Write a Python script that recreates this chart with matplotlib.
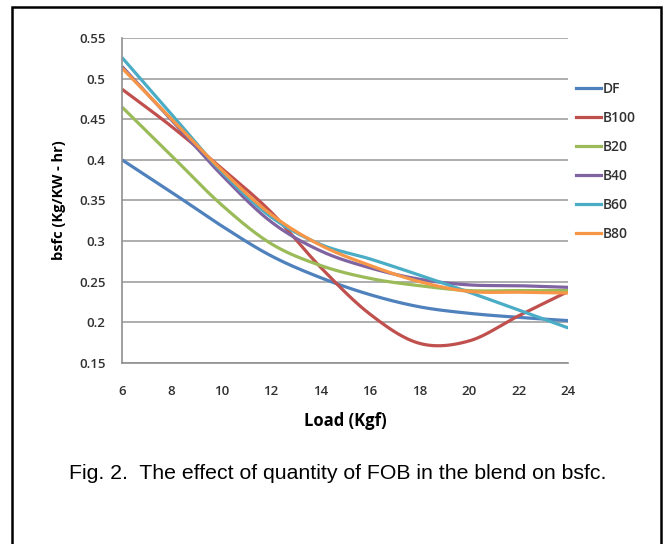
import numpy as np
import matplotlib
matplotlib.use("Agg")
import matplotlib.pyplot as plt
from matplotlib.lines import Line2D
from matplotlib.patches import Rectangle

load = [6, 8, 10, 12, 14, 16, 18, 20, 22, 24]
df = [0.400, 0.360, 0.319, 0.282, 0.255, 0.234, 0.219, 0.211, 0.206, 0.202]
b100 = [0.487, 0.441, 0.390, 0.336, 0.268, 0.210, 0.174, 0.177, 0.208, 0.238]
b20 = [0.465, 0.405, 0.345, 0.297, 0.270, 0.254, 0.245, 0.239, 0.239, 0.239]
b40 = [0.515, 0.449, 0.382, 0.324, 0.288, 0.267, 0.253, 0.246, 0.245, 0.243]
b60 = [0.526, 0.456, 0.386, 0.330, 0.296, 0.278, 0.258, 0.237, 0.215, 0.193]
b80 = [0.513, 0.450, 0.388, 0.333, 0.295, 0.270, 0.250, 0.238, 0.237, 0.236]

names = ["DF", "B100", "B20", "B40", "B60", "B80"]
series = [df, b100, b20, b40, b60, b80]
colors = ["#4F81BD", "#C0504D", "#9BBB59", "#8064A2", "#4BACC6", "#F79646"]


def smooth(x, y, n=30):
    # Catmull-Rom display smoothing, like Excel's smoothed line
    x = np.asarray(x, float)
    y = np.asarray(y, float)
    px = np.concatenate([[2 * x[0] - x[1]], x, [2 * x[-1] - x[-2]]])
    py = np.concatenate([[2 * y[0] - y[1]], y, [2 * y[-1] - y[-2]]])
    xs, ys = [], []
    t = np.linspace(0, 1, n)
    for i in range(1, len(px) - 2):
        for p, out in ((px, xs), (py, ys)):
            p0, p1, p2, p3 = p[i - 1], p[i], p[i + 1], p[i + 2]
            out.extend(0.5 * ((2 * p1) + (-p0 + p2) * t
                              + (2 * p0 - 5 * p1 + 4 * p2 - p3) * t ** 2
                              + (-p0 + 3 * p1 - 3 * p2 + p3) * t ** 3))
    return xs, ys


fig = plt.figure(figsize=(6.67, 5.44), dpi=100)
ax = fig.add_axes([0.183, 0.333, 0.669, 0.597])

for name, vals, c in zip(names, series, colors):
    sx, sy = smooth(load, vals)
    ax.plot(sx, sy, color=c, lw=2.3, label=name, solid_capstyle="butt")

ax.set_xlim(6, 24)
ax.set_ylim(0.15, 0.55)
ax.set_xticks(range(6, 25, 2))
ax.set_yticks(np.arange(0.15, 0.551, 0.05))
ax.set_yticklabels(["0.15", "0.2", "0.25", "0.3", "0.35", "0.4", "0.45", "0.5", "0.55"])
ax.yaxis.grid(True, color="#A0A0A0", lw=1.2)
ax.set_axisbelow(True)
for s in ["top", "right"]:
    ax.spines[s].set_visible(False)
for s in ["left", "bottom"]:
    ax.spines[s].set_color("#909090")
    ax.spines[s].set_linewidth(1.2)
ax.tick_params(length=0, labelsize=9.5, labelcolor="#303030")
ax.tick_params(axis="x", pad=16)
ax.tick_params(axis="y", pad=12)
for lab in ax.get_xticklabels() + ax.get_yticklabels():
    lab.set_fontfamily("Open Sans")
    lab.set_fontweight("semibold")

ax.set_xlabel("Load (Kgf)", fontsize=12, fontweight="bold", family="Open Sans", labelpad=10)
ax.set_ylabel("bsfc (Kg/KW - hr)", fontsize=10.5, fontweight="bold", family="Open Sans", labelpad=9)

handles = [Line2D([], [], color=c, lw=2.3) for c in colors]
leg = fig.legend(handles, names, loc="upper left", bbox_to_anchor=(0.845, 0.873),
                 frameon=False, handlelength=1.8, handletextpad=0.15,
                 labelspacing=1.08, prop={"family": "Open Sans", "size": 10, "weight": "semibold"})
for t in leg.get_texts():
    t.set_color("#303030")

fig.text(0.507, 0.129, "Fig. 2.  The effect of quantity of FOB in the blend on bsfc.",
         ha="center", va="center", fontsize=15.3, family="Liberation Sans")

frame = Rectangle((0.018, -0.05), 0.973, 1.037, transform=fig.transFigure,
                  fill=False, edgecolor="black", lw=1.8)
fig.patches.append(frame)

fig.savefig("out.png", dpi=100)
